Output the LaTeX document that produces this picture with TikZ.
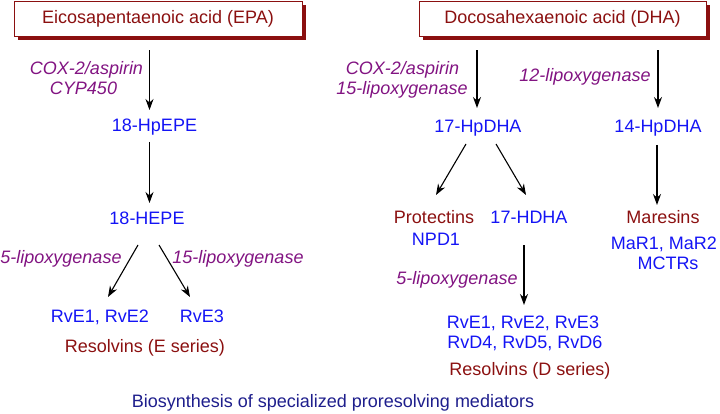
\documentclass[tikz,border=0pt]{standalone}
\usepackage{fontspec}
\setmainfont{Liberation Sans}
\usetikzlibrary{arrows.meta,calc,shadows}
\definecolor{dred}{RGB}{139,16,16}
\definecolor{mblue}{RGB}{20,20,245}
\definecolor{mpurple}{RGB}{130,20,130}
\definecolor{navy}{RGB}{30,30,140}
\tikzset{
  lbl/.style={inner sep=0pt, outer sep=0pt, text height=12.5pt, text depth=0pt, font=\fontsize{18pt}{20pt}\selectfont},
  cmpd/.style={lbl, text=mblue},
  enz/.style={lbl, text=mpurple, font=\fontsize{18pt}{20pt}\selectfont\itshape},
  cls/.style={lbl, text=dred},
  topbox/.style={draw=dred, line width=0.8pt, fill=white, text=dred, minimum height=35pt,
    font=\fontsize{18pt}{20pt}\selectfont, inner sep=0pt,
    drop shadow={shadow xshift=4pt, shadow yshift=-4pt, fill=dred, opacity=1}},
  arr/.style={line width=1.1pt, -{Stealth[length=11pt,width=8pt]}}
}
\begin{document}
\begin{tikzpicture}[x=1pt,y=1pt]
\useasboundingbox (0,0) rectangle (720,413);
% top boxes
\node[topbox, minimum width=288pt] (epa) at (158,394.5) {Eicosapentaenoic acid (EPA)};
\node[topbox, minimum width=287pt] (dha) at (562.5,394.5) {Docosahexaenoic acid (DHA)};
% EPA branch
\node[enz] (coxa) at (86.5,345) {COX-2/aspirin};
\node[enz] (cyp) at (83.5,325) {CYP450};
\node[cmpd] (hpepe) at (154.5,288) {18-HpEPE};
\node[cmpd] (hepe) at (147,194.5) {18-HEPE};
\node[enz] (loxfa) at (61,156) {5-lipoxygenase};
\node[enz] (loxffa) at (238,156) {15-lipoxygenase};
\node[cmpd] (rvea) at (100,97) {RvE1, RvE2};
\node[cmpd] (rveb) at (202,97) {RvE3};
\node[cls] (rese) at (145,67) {Resolvins (E series)};
% DHA branch
\node[enz] (coxb) at (402.5,345) {COX-2/aspirin};
\node[enz] (loxffb) at (402,325) {15-lipoxygenase};
\node[enz] (loxtw) at (585,338) {12-lipoxygenase};
\node[cmpd] (hpa) at (478,287) {17-HpDHA};
\node[cmpd] (hpb) at (658,287) {14-HpDHA};
\node[cls] (prot) at (434,196) {Protectins};
\node[cmpd] (npd) at (436,174) {NPD1};
\node[cmpd] (hdha) at (529,196) {17-HDHA};
\node[enz] (loxfb) at (457,135) {5-lipoxygenase};
\node[cls] (mar) at (663,196) {Maresins};
\node[cmpd] (marr) at (664,170) {MaR1, MaR2};
\node[cmpd] (mctr) at (668,150) {MCTRs};
\node[cmpd] (rvl) at (523,91) {RvE1, RvE2, RvE3};
\node[cmpd] (rvm) at (525,71) {RvD4, RvD5, RvD6};
\node[cls] (resd) at (530,44) {Resolvins (D series)};
% caption
\node[lbl, text=navy] (cap) at (333,12) {Biosynthesis of specialized proresolving mediators};
% arrows
\draw[arr] ($(epa.south)+(-8.5,-14)$) -- ($(hpepe.north)+(-5,8.75)$);
\draw[arr] ($(hpepe.south)+(-5,-10.75)$) -- ($(hepe.north)+(2.5,9.25)$);
\draw[arr] ($(hepe.south)+(-9,-20.25)$) -- ($(rvea.north)+(8,12.75)$);
\draw[arr] ($(hepe.south)+(12,-20.25)$) -- ($(rveb.north)+(-12,12.75)$);
\draw[arr] ($(dha.south -| hpa.north)+(-1,-14)$) -- ($(hpa.north)+(-1,11.75)$);
\draw[arr] ($(dha.south -| hpb.north)+(0,-14)$) -- ($(hpb.north)+(0,11.75)$);
\draw[arr] ($(hpa.south)+(-12,-11.75)$) -- ($(prot.north)+(2,15.75)$);
\draw[arr] ($(hpa.south)+(18,-11.75)$) -- ($(hdha.north)+(-3,15.75)$);
\draw[arr] ($(hpb.south)+(-1,-12.75)$) -- ($(mar.north)+(-6,5.75)$);
\draw[arr] ($(hdha.south)+(-5,-21.75)$) -- ($(rvl.north)+(1,10.75)$);
\end{tikzpicture}
\end{document}
